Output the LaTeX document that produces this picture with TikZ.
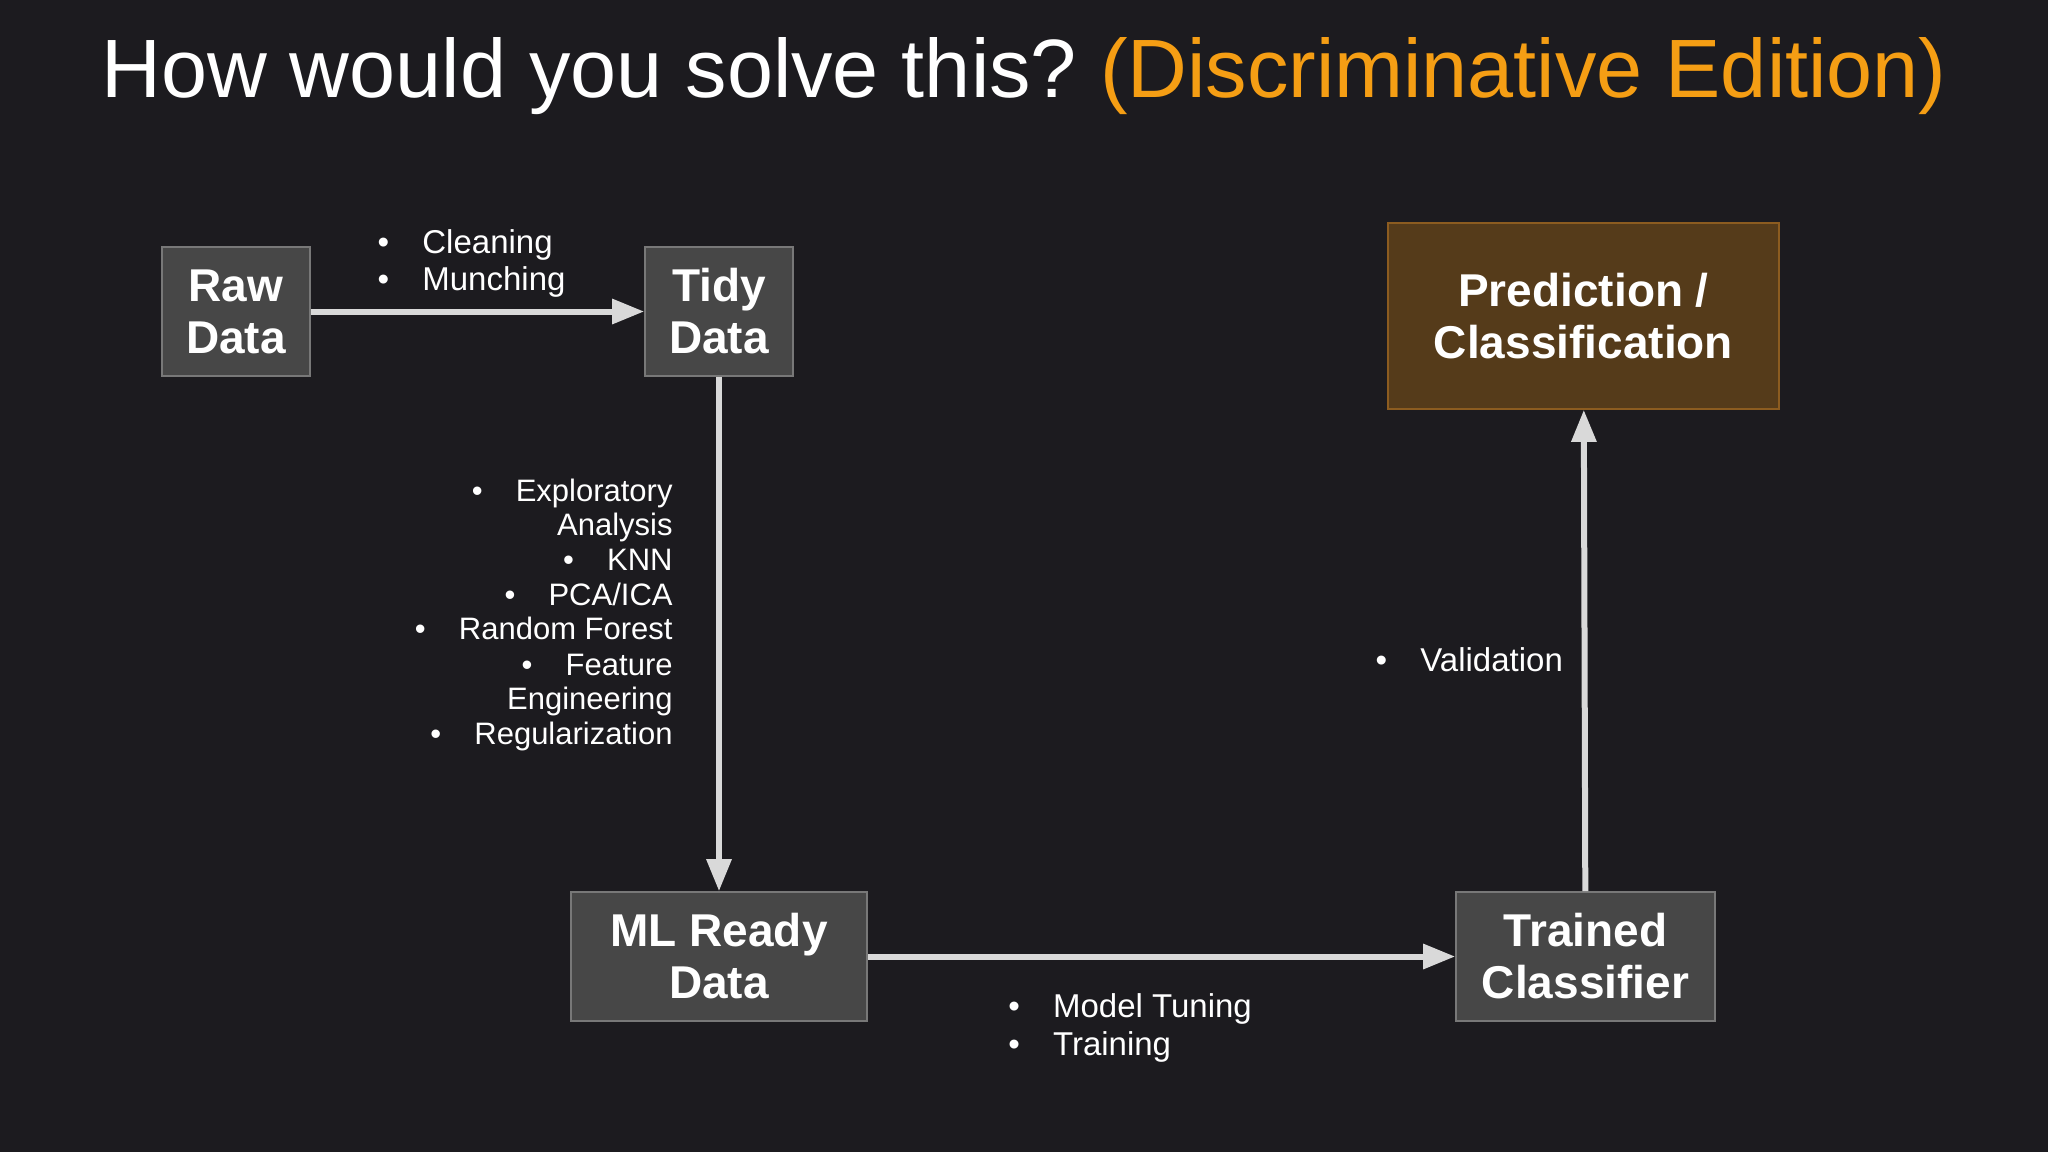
\documentclass[tikz,border=0pt]{standalone}
\usepackage{fontspec}
\setmainfont{Liberation Sans}
\usetikzlibrary{arrows.meta}
\definecolor{bg}{RGB}{28,27,31}
\definecolor{boxfill}{RGB}{71,71,71}
\definecolor{boxline}{RGB}{120,120,120}
\definecolor{predfill}{RGB}{85,59,26}
\definecolor{predline}{RGB}{140,92,32}
\definecolor{arrowc}{RGB}{217,217,217}
\definecolor{titleorange}{RGB}{245,158,20}
\newcommand\bul{\llap{\textbullet\hspace{16.6pt}}}
\frenchspacing
\begin{document}
\begin{tikzpicture}[x=0.5pt,y=-0.5pt,
  box/.style={draw=boxline,line width=0.8pt,fill=boxfill,text=white,
    font=\fontsize{23}{26}\selectfont\bfseries,align=center,inner sep=0pt},
  predbox/.style={box,fill=predfill,draw=predline},
  flow/.style={draw=arrowc,line width=3pt,-{Triangle[length=16pt,width=12pt]}},
  note/.style={text=white,font=\fontsize{16.5}{19}\selectfont,inner sep=0pt},
  notesm/.style={text=white,font=\fontsize{15.5}{17}\selectfont,inner sep=0pt}]
\fill[bg] (0,0) rectangle (2048,1152);
\useasboundingbox (0,0) rectangle (2048,1152);

\node[text=white,font=\fontsize{41.4}{48}\selectfont,inner sep=0pt,anchor=base] (title) at (1024,97)
  {How would you solve this? \textcolor{titleorange}{(Discriminative Edition)}};

\node[box,minimum width=74pt,minimum height=64.5pt] (raw) at (236,311.5) {Raw\\Data};
\node[box,minimum width=74pt,minimum height=64.5pt] (tidy) at (719,311.5) {Tidy\\Data};
\node[predbox,minimum width=195.5pt,minimum height=93pt] (pred) at (1583.5,316) {Prediction /\\Classification};
\node[box,minimum width=148pt,minimum height=64.5pt] (ml) at (719,956.5) {ML Ready\\Data};
\node[box,minimum width=129.5pt,minimum height=64.5pt] (trained) at (1585.5,956.5) {Trained\\Classifier};

\draw[flow] (raw) -- (tidy);
\draw[flow] (tidy) -- (ml);
\draw[flow] (ml) -- (trained);
\draw[flow] (trained) -- (pred);

\node[note,anchor=base west] (n1) at (422,253) {\bul Cleaning};
\node[note,anchor=base west] (n2) at (422,290) {\bul Munching};

\node[notesm,anchor=base east] (l1) at (673,501) {\bul Exploratory};
\node[notesm,anchor=base east] (l2) at (673,535) {Analysis};
\node[notesm,anchor=base east] (l3) at (673,570) {\bul KNN};
\node[notesm,anchor=base east] (l4) at (673,605) {\bul PCA/ICA};
\node[notesm,anchor=base east] (l5) at (673,639) {\bul Random Forest};
\node[notesm,anchor=base east] (l6) at (673,675) {\bul Feature};
\node[notesm,anchor=base east] (l7) at (673,709) {Engineering};
\node[notesm,anchor=base east] (l8) at (673,744) {\bul Regularization};

\node[note,anchor=base west] (m1) at (1052.7,1017) {\bul Model Tuning};
\node[note,anchor=base west] (m2) at (1052.7,1055) {\bul Training};

\node[note,anchor=base west] (v1) at (1420,671) {\bul Validation};
\end{tikzpicture}
\end{document}
